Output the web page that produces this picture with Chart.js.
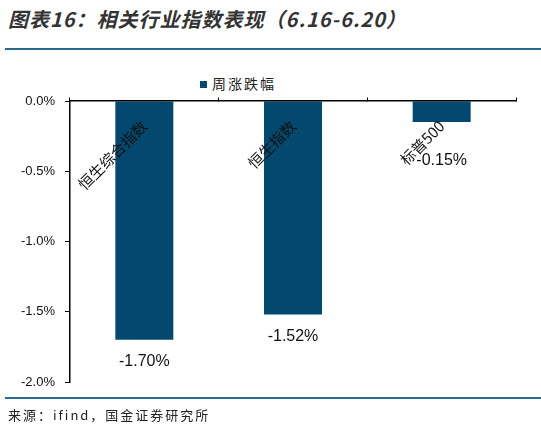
<!DOCTYPE html>
<html>
<head>
<meta charset="utf-8">
<script src="https://cdn.jsdelivr.net/npm/chart.js@4.4.1/dist/chart.umd.min.js"></script>
<style>
  html, body { margin: 0; padding: 0; background: #fff; }
  #wrap { position: relative; width: 541px; height: 430px; overflow: hidden; }
  #title { position: absolute; left: 8px; top: 4px; font-family: "Noto Sans CJK SC", sans-serif; font-weight: bold; font-style: italic; font-size: 20px; color: #333; white-space: nowrap; letter-spacing: 1px; }
  .rule { position: absolute; left: 5px; right: 0; height: 2px; background: #2b6a8d; }
  #legend { position: absolute; left: 200px; top: 73px; font-family: "Noto Sans CJK SC", sans-serif; font-size: 14px; color: #222; white-space: nowrap; letter-spacing: 2px; }
  #legend span.box { display: inline-block; width: 7px; height: 7px; background: #03486e; margin-right: 5px; vertical-align: 1px; }
  #source { position: absolute; left: 8px; top: 405px; font-family: "Noto Sans CJK SC", sans-serif; font-size: 13px; color: #222; white-space: nowrap; letter-spacing: 2px; }
  canvas { position: absolute; left: 0; top: 0; }
</style>
</head>
<body>
<div id="wrap">
  <div id="title">图表16：相关行业指数表现（6.16-6.20）</div>
  <div class="rule" style="top:48px"></div>
  <div id="legend"><span class="box"></span>周涨跌幅</div>
  <canvas id="c" width="541" height="430"></canvas>
  <div class="rule" style="top:397px"></div>
  <div id="source">来源：ifind，国金证券研究所</div>
</div>
<script>
const categories = ["恒生综合指数", "恒生指数", "标普500"];
const seriesName = "周涨跌幅";
const weeklyChange = [-1.70, -1.52, -0.15];
const yTicks = [0, -0.5, -1.0, -1.5, -2.0];
const labelGap = [22, 22, 39];

const barLabels = {
  id: 'barLabels',
  afterDatasetsDraw(chart) {
    const ctx = chart.ctx;
    const meta = chart.getDatasetMeta(0);
    ctx.save();
    ctx.font = '16px "Liberation Sans", Arial, sans-serif';
    ctx.fillStyle = '#111';
    ctx.textAlign = 'center';
    ctx.textBaseline = 'middle';
    meta.data.forEach((bar, i) => {
      const v = weeklyChange[i];
      ctx.fillText(v.toFixed(2) + '%', bar.x, bar.y + labelGap[i]);
    });
    ctx.restore();
  }
};

new Chart(document.getElementById('c'), {
  type: 'bar',
  data: {
    labels: categories,
    datasets: [{
      label: seriesName,
      data: weeklyChange,
      backgroundColor: '#03486e',
      borderWidth: 0,
      categoryPercentage: 1.0,
      barPercentage: 0.39
    }]
  },
  options: {
    responsive: false,
    animation: false,
    devicePixelRatio: 1,
    layout: { padding: { top: 101, bottom: 48, left: 0, right: 25 } },
    plugins: { legend: { display: false }, tooltip: { enabled: false }, title: { display: false } },
    scales: {
      x: {
        position: { y: 0 },
        offset: true,
        border: { display: true, color: '#000', width: 1.5, z: 1 },
        grid: { display: true, drawOnChartArea: false, drawTicks: true, tickLength: -4, color: '#000', tickColor: '#000', tickWidth: 1, offset: true, z: 1 },
        ticks: {
          z: 1,
          autoSkip: false, minRotation: 45, maxRotation: 45, padding: 20,
          color: '#111',
          font: { family: '"Noto Sans CJK SC", sans-serif', size: 15 }
        },
        afterFit(scale) { scale.paddingLeft = 0; scale.paddingRight = 0; scale.paddingTop = 0; scale.paddingBottom = 0; }
      },
      y: {
        min: -2, max: 0,
        afterBuildTicks(scale) { scale.ticks = yTicks.map(v => ({ value: v })); },
        border: { display: true, color: '#000', width: 1.5 },
        grid: { display: true, drawOnChartArea: false, drawTicks: true, tickLength: 5, color: '#000', tickColor: '#000' },
        ticks: {
          padding: 10, color: '#111',
          font: { family: '"Liberation Sans", Arial, sans-serif', size: 13 },
          callback: (v) => Number(v).toFixed(1) + '%'
        },
        afterFit(scale) { scale.width = 70; }
      }
    }
  },
  plugins: [barLabels]
});
</script>
</body>
</html>
